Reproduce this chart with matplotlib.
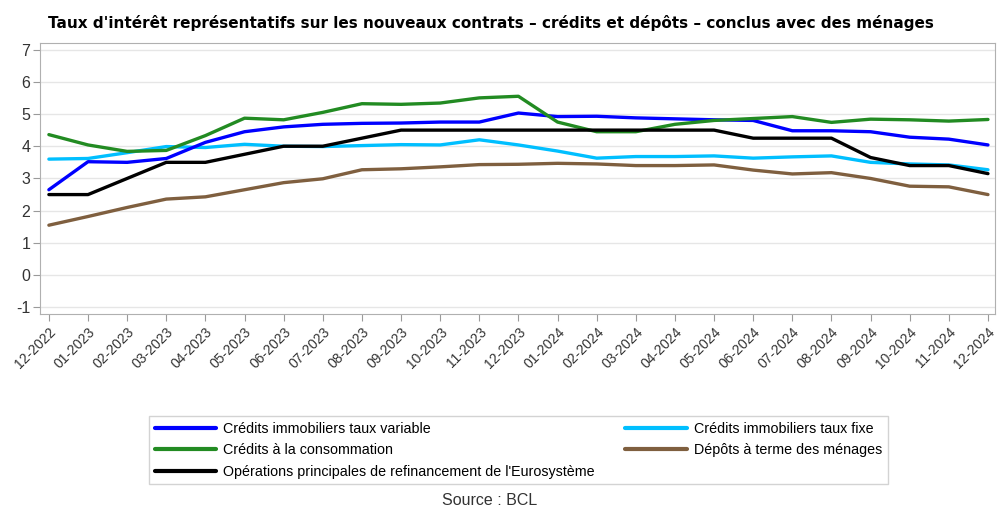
import matplotlib
matplotlib.use("Agg")
from matplotlib import pyplot as plt

# Données (en %), de 12-2022 à 12-2024
mois = ['12-2022', '01-2023', '02-2023', '03-2023', '04-2023', '05-2023', '06-2023',
        '07-2023', '08-2023', '09-2023', '10-2023', '11-2023', '12-2023', '01-2024',
        '02-2024', '03-2024', '04-2024', '05-2024', '06-2024', '07-2024', '08-2024',
        '09-2024', '10-2024', '11-2024', '12-2024']

immo_variable = [2.65, 3.52, 3.50, 3.62, 4.12, 4.45, 4.60, 4.68, 4.71, 4.72, 4.75, 4.75, 5.03,
                 4.92, 4.93, 4.88, 4.85, 4.82, 4.80, 4.48, 4.48, 4.45, 4.28, 4.22, 4.04]
immo_fixe = [3.60, 3.62, 3.80, 3.99, 3.96, 4.06, 4.00, 3.99, 4.02, 4.05, 4.04, 4.20, 4.04,
             3.85, 3.63, 3.68, 3.68, 3.70, 3.63, 3.67, 3.70, 3.50, 3.45, 3.42, 3.27]
consommation = [4.36, 4.04, 3.84, 3.87, 4.33, 4.87, 4.82, 5.05, 5.32, 5.30, 5.34, 5.50, 5.55,
                4.75, 4.45, 4.45, 4.68, 4.80, 4.86, 4.92, 4.74, 4.84, 4.82, 4.78, 4.83]
depots = [1.55, 1.82, 2.10, 2.36, 2.43, 2.65, 2.87, 2.99, 3.27, 3.30, 3.36, 3.43, 3.44,
          3.47, 3.45, 3.40, 3.40, 3.42, 3.26, 3.14, 3.18, 3.00, 2.76, 2.74, 2.50]
refi_bce = [2.50, 2.50, 3.00, 3.50, 3.50, 3.75, 4.00, 4.00, 4.25, 4.50, 4.50, 4.50, 4.50,
            4.50, 4.50, 4.50, 4.50, 4.50, 4.25, 4.25, 4.25, 3.65, 3.40, 3.40, 3.15]

series = [
    ("Crédits immobiliers taux variable", immo_variable, "#0000ff"),
    ("Crédits à la consommation", consommation, "#228b22"),
    ("Opérations principales de refinancement de l'Eurosystème", refi_bce, "#000000"),
    ("Crédits immobiliers taux fixe", immo_fixe, "#00bfff"),
    ("Dépôts à terme des ménages", depots, "#7f5f3f"),
]
ordre_trace = [4, 3, 0, 1, 2]

plt.rcParams['font.family'] = ['Liberation Sans', 'DejaVu Sans']
plt.rcParams['axes.unicode_minus'] = False

fig = plt.figure(figsize=(9.97, 5.07), dpi=100)
ax = fig.add_axes([0.040, 0.381, 0.958, 0.534])

x = list(range(len(mois)))
lignes = {}
for i in ordre_trace:
    nom, valeurs, couleur = series[i]
    l, = ax.plot(x, valeurs, color=couleur, lw=2.4, solid_joinstyle='round',
                 solid_capstyle='round', label=nom, zorder=3)
    lignes[i] = l

ax.set_xlim(-0.23, 24.18)
ax.set_ylim(-1.2, 7.2)
ax.set_yticks(range(-1, 8))
ax.set_xticks(x)
ax.set_xticklabels(mois, rotation=45, ha='right', rotation_mode='anchor')
ax.tick_params(axis='x', colors='#9a9a9a', labelcolor='#333333', labelsize=10, length=5, pad=3)
ax.tick_params(axis='y', colors='#9a9a9a', labelcolor='#333333', labelsize=11.5, length=5, pad=2)
ax.grid(axis='y', color='#e6e6e6', lw=1, zorder=0)
for s in ax.spines.values():
    s.set_color('#b0b0b0')

fig.text(0.048, 0.954, "Taux d'intérêt représentatifs sur les nouveaux contrats – crédits et dépôts – conclus avec des ménages",
         fontsize=10.95, fontweight='bold', ha='left', va='center', family='DejaVu Sans')

leg = fig.legend([lignes[i] for i in range(5)], [series[i][0] for i in range(5)],
                 ncol=2, loc='upper left', bbox_to_anchor=(0.1494, 0.1795, 0.7413, 0.0),
                 mode='expand', handlelength=4.3, handletextpad=0.5,
                 labelspacing=0.52, borderpad=0.4, borderaxespad=0, frameon=True, fancybox=False,
                 edgecolor='#c8c8c8', prop={'size': 10.3})
leg.get_frame().set_linewidth(1)
for h in leg.get_lines():
    h.set_linewidth(3)

fig.text(0.491, 0.0138, "Source : BCL", fontsize=11.5, ha='center', va='center', color='#333333')

fig.savefig("out.png", dpi=100)
